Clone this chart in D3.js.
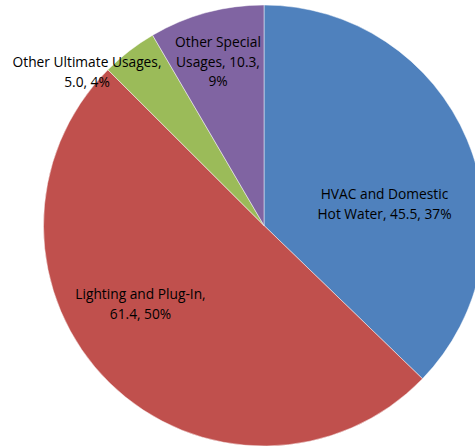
<!DOCTYPE html>
<html><head><meta charset="utf-8">
<script src="https://cdn.jsdelivr.net/npm/d3@7"></script>
<style>html,body{margin:0;padding:0;background:#fff;overflow:hidden}</style>
</head><body>
<svg id="c" width="475" height="447"></svg>
<script>
const categories = ["HVAC and Domestic Hot Water", "Lighting and Plug-In", "Other Ultimate Usages", "Other Special Usages"];
const values = [45.5, 61.4, 5.0, 10.3];
const percents = ["37%", "50%", "4%", "9%"];
const colors = ["#4F81BD", "#C0504D", "#9BBB59", "#8064A2"];
// label lines (text)
const labelLines = [
  ["HVAC and Domestic", "Hot Water, 45.5, 37%"],
  ["Lighting and Plug-In,", "61.4, 50%"],
  ["Other Ultimate Usages,", "5.0, 4%"],
  ["Other Special", "Usages, 10.3,", "9%"]
];
// layout: label centre (relative to pie centre)
const labelCentre = [[120.5, -21.75], [-123.5, 78.25], [-177, -153.75], [-46, -164]];

const cx = 264, cy = 225.5, R = 220.5;
const svg = d3.select("#c");
const g = svg.append("g").attr("transform", `translate(${cx},${cy})`);
const pie = d3.pie().sort(null).value(d => d)(values);
const arc = d3.arc().innerRadius(0).outerRadius(R);
g.selectAll("path").data(pie).join("path")
  .attr("d", arc).attr("fill", (d, i) => colors[i])
  .attr("stroke", "#fff").attr("stroke-opacity", 0.6).attr("stroke-width", 0.8);

const lh = 19.5;
labelLines.forEach((lines, i) => {
  const [lx, ly] = labelCentre[i];
  const t = g.append("text").attr("text-anchor", "middle")
    .attr("font-family", "'Open Sans', sans-serif").attr("font-size", 13.75)
    .attr("fill", "#000");
  lines.forEach((s, k) => {
    t.append("tspan").attr("x", lx)
      .attr("y", ly + (k - (lines.length - 1) / 2) * lh + 5).text(s);
  });
});
</script>
</body></html>
